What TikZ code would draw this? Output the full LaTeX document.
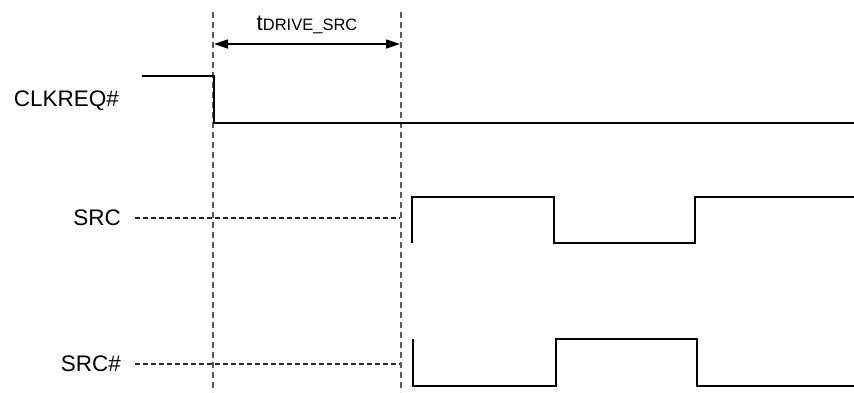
\documentclass[tikz,border=0pt]{standalone}
\usepackage{fontspec}
\setmainfont{Liberation Sans}
\usetikzlibrary{arrows.meta}
\begin{document}
\begin{tikzpicture}[x=1pt,y=-1pt,
  vguide/.style={draw=black!65,line width=1.2pt,dash pattern=on 6pt off 4pt},
  hguide/.style={draw=black!85,line width=1.1pt,dash pattern=on 4.5pt off 3.5pt},
  wave/.style={draw=black,line width=1.3pt},
  dim/.style={draw=black,line width=1.7pt,{Triangle[length=14pt,width=9pt]}-{Triangle[length=14pt,width=9pt]}},
  lbl/.style={font=\fontsize{22.5}{24}\selectfont,anchor=east,inner sep=0pt}]
\useasboundingbox (0,0) rectangle (854,392);
% vertical guides
\coordinate (v1top) at (213,12);
\coordinate (v1bot) at (213,392);
\coordinate (v2top) at (401,12);
\coordinate (v2bot) at (401,392);
\draw[vguide] (v1top) -- (v1bot);
\draw[vguide] (v2top) -- (v2bot);
% dimension
\coordinate (da) at (214,44);
\coordinate (db) at (400,44);
\draw[dim] (da) -- (db);
\node[inner sep=0pt,anchor=base] (tlab) at (307,30) {\fontsize{22.5}{24}\selectfont t\fontsize{16.5}{18}\selectfont DRIVE\_SRC};
% labels
\node[lbl] (clk) at (119,101) {CLKREQ\#};
\node[lbl] (src) at (121,218) {SRC};
\node[lbl] (srcn) at (121,364) {SRC\#};
% CLKREQ#
\coordinate (c0) at (142,76);
\coordinate (c1) at (214,76);
\coordinate (c2) at (214,123);
\coordinate (c3) at (854,123);
\draw[wave] (c0) -- (c1) -- (c2) -- (c3);
% SRC
\coordinate (s0) at (135,218);
\coordinate (s1) at (400,218);
\draw[hguide] (s0) -- (s1);
\coordinate (a0) at (412,243);
\coordinate (a1) at (412,197);
\coordinate (a2) at (554,197);
\coordinate (a3) at (554,243);
\coordinate (a4) at (695,243);
\coordinate (a5) at (695,197);
\coordinate (a6) at (854,197);
\draw[wave] (a0) -- (a1) -- (a2) -- (a3) -- (a4) -- (a5) -- (a6);
% SRC#
\coordinate (n0) at (135,364);
\coordinate (n1) at (400,364);
\draw[hguide] (n0) -- (n1);
\coordinate (b0) at (413,339);
\coordinate (b1) at (413,386);
\coordinate (b2) at (556,386);
\coordinate (b3) at (556,339);
\coordinate (b4) at (697,339);
\coordinate (b5) at (697,386);
\coordinate (b6) at (854,386);
\draw[wave] (b0) -- (b1) -- (b2) -- (b3) -- (b4) -- (b5) -- (b6);
\end{tikzpicture}
\end{document}
